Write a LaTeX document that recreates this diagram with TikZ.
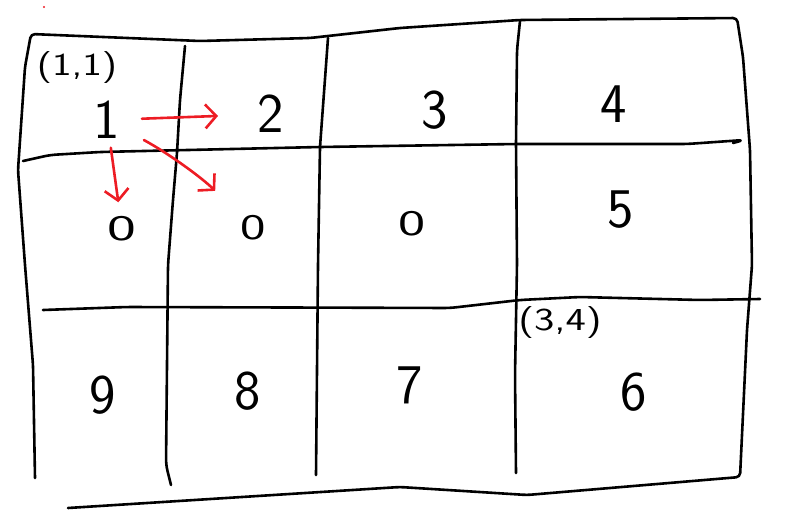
\documentclass[tikz,border=0pt]{standalone}
\usetikzlibrary{arrows.meta}
\definecolor{paintred}{RGB}{237,28,36}
\newcommand{\widen}[2]{\scalebox{#1}[1]{#2}}
\begin{document}
\begin{tikzpicture}[x=1pt,y=-1pt,
    pen/.style={line width=2.6pt,line cap=round,line join=round},
    redarr/.style={pen,paintred,-{Straight Barb[length=11pt,width=24pt]}},
    digit/.style={font=\sffamily\fontsize{56}{60}\selectfont,inner sep=0pt},
    zerodigit/.style={font=\sffamily\fontsize{36}{38}\selectfont,inner sep=0pt},
    coordlbl/.style={font=\sffamily\fontsize{32}{34}\selectfont,inner sep=0pt}]
\useasboundingbox (0,0) rectangle (800,530);

\draw[pen,rounded corners=4pt] (35,478) -- (33,365) -- (25,265) -- (18,170) -- (25,67) -- (31,34)
  -- (200,41) -- (310,38) -- (400,28) -- (520,20) -- (737,18)
  -- (743,57) -- (750,150) -- (752,265) -- (747,330) -- (740,477)
  -- (527,495) -- (400,487) -- (68,508);

\draw[pen,rounded corners=6pt] (185,46) -- (180,100) -- (177,153) -- (173,200) -- (168,265) -- (166,465) -- (171,485);
\draw[pen,rounded corners=6pt] (328,38) -- (320,147) -- (318,265) -- (316,475);
\draw[pen,rounded corners=6pt] (520,21) -- (517,50) -- (516,143) -- (517,265) -- (515,375) -- (516,473);
\draw[pen,rounded corners=6pt] (23,161) -- (50,155) -- (100,152) -- (320,147) -- (517,144) -- (687,144) -- (744,140) -- (733,143);
\draw[pen,rounded corners=6pt] (43,310) -- (127,307) -- (450,308) -- (520,300) -- (580,297) -- (700,300) -- (760,299);

\fill[paintred] (44,7) circle (1.2pt);

\node[coordlbl] (p11) at (77,68) {\widen{1.3}{(1,1)}};
\node[digit] (c11) at (107,120) {1};
\node[digit] (c12) at (271,114) {2};
\node[digit] (c13) at (435,110) {3};
\node[digit] (c14) at (614,104) {4};
\node[zerodigit] (c21) at (122,229) {\widen{1.7}{0}};
\node[zerodigit] (c22) at (253,228) {\widen{1.5}{0}};
\node[zerodigit] (c23) at (412,224) {\widen{1.6}{0}};
\node[digit] (c24) at (621,210) {5};
\node[digit] (c31) at (103,395) {9};
\node[digit] (c32) at (248,391) {8};
\node[digit] (c33) at (410,385) {7};
\node[digit] (c34) at (634,392) {6};
\node[coordlbl] (p34) at (560,323) {\widen{1.35}{(3,4)}};

\draw[redarr,shorten <=35pt,shorten >=53pt] (c11.center) -- (c12.center);
\draw[redarr,shorten <=28pt,shorten >=27pt] (c11.center) -- (c21.center);
\draw[redarr,shorten <=42pt,shorten >=53pt] (c11.center) to[bend left=8] (c22.center);
\end{tikzpicture}
\end{document}
